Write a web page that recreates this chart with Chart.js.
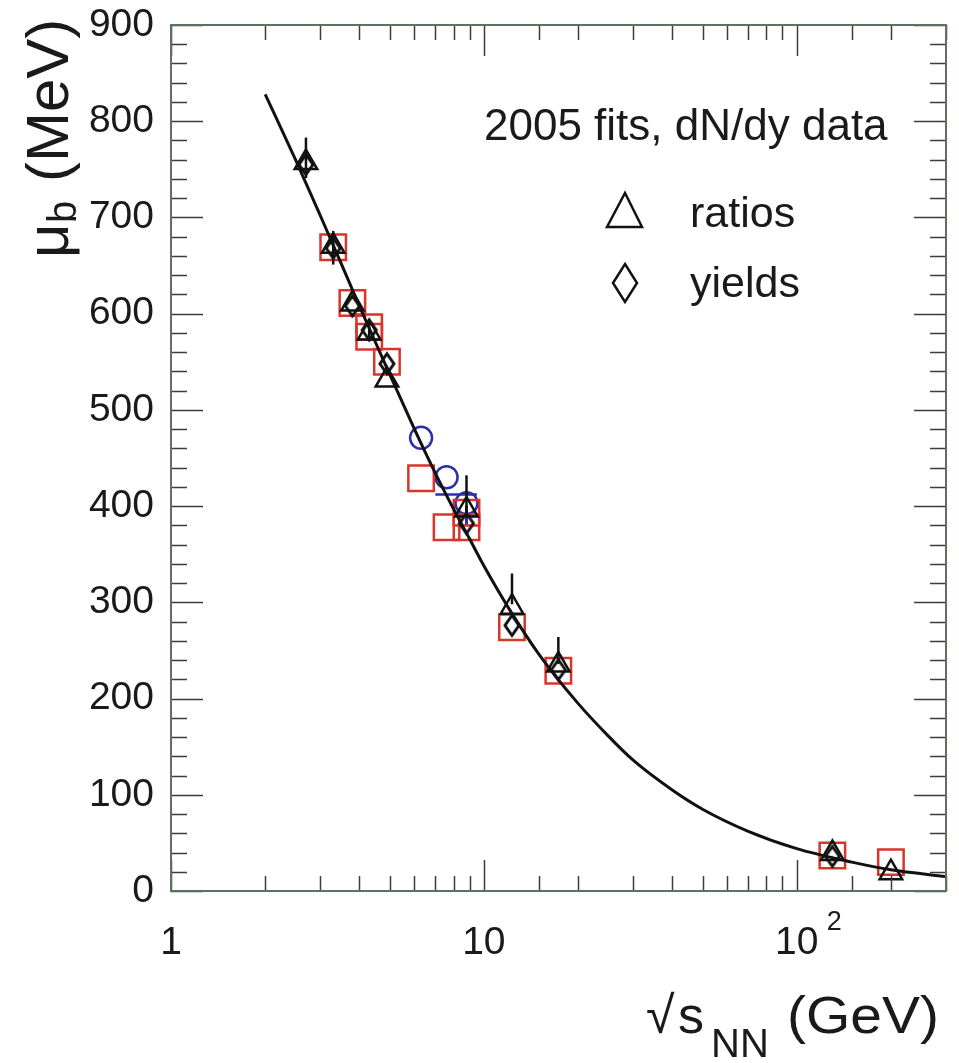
<!DOCTYPE html>
<html>
<head>
<meta charset="utf-8">
<script src="https://cdn.jsdelivr.net/npm/chart.js@4.4.0/dist/chart.umd.min.js"></script>
<style>
  html, body { margin: 0; padding: 0; background: #fff; }
  #grafico { display: block; }
</style>
</head>
<body>
<canvas id="grafico" width="959" height="1063" style="width:959px;height:1063px"></canvas>
<script>
// fit curve
var curvaX = [2.0, 2.5, 3.0, 3.5, 4.0, 5.0, 6.0, 7.0, 8.0, 9.0, 10, 12, 15, 20, 25, 30, 40, 50, 70, 100, 150, 200, 300];
var curvaY = [828, 760, 702, 652, 608, 537, 480, 434, 397, 366, 338, 294, 246, 195, 161, 136, 105, 85, 62, 44, 30, 22, 15];

// triangles: fits to ratios
var ratiosX = [2.7, 3.3, 3.8, 4.3, 4.9, 8.8, 12.3, 17.3, 130, 200];
var ratiosY = [757, 670, 610, 580, 531, 396, 295, 235, 39, 19];

// diamonds: fits to yields
var yieldsX = [2.7, 3.3, 3.8, 4.3, 4.9, 8.8, 12.3, 17.3, 130];
var yieldsY = [755, 668, 608, 583, 548, 382, 276, 230, 36];

// red squares
var cuadX = [3.3, 3.8, 4.3, 4.3, 4.9, 6.3, 7.6, 8.8, 8.8, 12.3, 17.3, 130, 200];
var cuadY = [669, 611, 586, 576, 550, 429, 378, 378, 393, 274, 229, 37, 30];

// blue circles
var circX = [6.3, 7.6, 8.8];
var circY = [471, 430, 403];

// error bars
var errX  = [2.7, 3.3, 4.3, 8.8, 12.3, 17.3];
var errLo = [741, 651, 572, 392, 298, 236];
var errHi = [783, 686, 592, 432, 330, 264];

// blue horizontal bar near 8 GeV
var barraAzulX = [7.0, 9.5];
var barraAzulY = [412, 412];

var xEtiquetas = { 1: '1', 10: '10', 100: '10' };

Chart.defaults.font.family = "'Liberation Sans', Arial, sans-serif";

function puntos(xs, ys) {
    return xs.map(function (x, i) { return { x: x, y: ys[i] }; });
}

// tall open diamond used as point style
function hacerRombo(w, h, lw) {
    var c = document.createElement('canvas');
    c.width = w + lw * 2;
    c.height = h + lw * 2;
    var g = c.getContext('2d');
    var cx = c.width / 2, cy = c.height / 2;
    g.strokeStyle = '#111';
    g.lineWidth = lw;
    g.beginPath();
    g.moveTo(cx, cy - h / 2);
    g.lineTo(cx + w / 2, cy);
    g.lineTo(cx, cy + h / 2);
    g.lineTo(cx - w / 2, cy);
    g.closePath();
    g.stroke();
    return c;
}
var rombo = hacerRombo(14, 20, 3);

function sinPadding(s) {
    s.paddingTop = 0;
    s.paddingBottom = 0;
    s.paddingLeft = 0;
    s.paddingRight = 0;
}

var datasets = [];

datasets.push({
    type: 'line',
    data: puntos(curvaX, curvaY),
    borderColor: '#111',
    borderWidth: 3,
    pointRadius: 0,
    cubicInterpolationMode: 'monotone',
    showLine: true,
    order: 0
});

errX.forEach(function (x, i) {
    datasets.push({
        type: 'line',
        data: [{ x: x, y: errLo[i] }, { x: x, y: errHi[i] }],
        borderColor: '#111',
        borderWidth: 2.5,
        pointRadius: 0,
        showLine: true,
        order: 1
    });
});

datasets.push({
    data: puntos(ratiosX, ratiosY),
    pointStyle: 'triangle',
    pointRadius: 13,
    borderColor: '#111',
    borderWidth: 2.5,
    backgroundColor: 'rgba(0,0,0,0)',
    order: 2
});

datasets.push({
    data: puntos(yieldsX, yieldsY),
    pointStyle: rombo,
    pointRadius: 10,
    order: 3
});

datasets.push({
    data: puntos(cuadX, cuadY),
    pointStyle: 'rect',
    pointRadius: 18,
    borderColor: '#d8352c',
    borderWidth: 2.5,
    backgroundColor: 'rgba(0,0,0,0)',
    order: 4
});

datasets.push({
    data: puntos(circX, circY),
    pointStyle: 'circle',
    pointRadius: 11,
    borderColor: '#2a30a6',
    borderWidth: 2.5,
    backgroundColor: 'rgba(0,0,0,0)',
    order: 5
});

datasets.push({
    type: 'line',
    data: puntos(barraAzulX, barraAzulY),
    borderColor: '#2a30a6',
    borderWidth: 2.5,
    pointRadius: 0,
    showLine: true,
    order: 5
});

datasets.push({
    data: [{ x: 8.8, y: 390 }],
    pointStyle: 'cross',
    pointRadius: 10,
    borderColor: '#2a30a6',
    borderWidth: 3,
    order: 5
});

var marco = {
    id: 'marco',
    afterDraw: function (chart) {
        var ctx = chart.ctx;
        var a = chart.chartArea;
        var sx = chart.scales.x, sy = chart.scales.y;
        ctx.save();

        // inner ticks on all four sides
        ctx.strokeStyle = '#3c3c3c';
        ctx.lineWidth = 1.5;
        ctx.beginPath();
        sy.ticks.forEach(function (t) {
            var py = Math.round(sy.getPixelForValue(t.value)) + 0.5;
            var largo = (Math.round(t.value) % 100 === 0) ? 32 : 16;
            ctx.moveTo(a.left, py); ctx.lineTo(a.left + largo, py);
            ctx.moveTo(a.right, py); ctx.lineTo(a.right - largo, py);
        });
        sx.ticks.forEach(function (t) {
            var px = Math.round(sx.getPixelForValue(t.value)) + 0.5;
            var l = Math.log10(t.value);
            var largo = Math.abs(l - Math.round(l)) < 1e-6 ? 31 : 15;
            ctx.moveTo(px, a.bottom); ctx.lineTo(px, a.bottom - largo);
            ctx.moveTo(px, a.top); ctx.lineTo(px, a.top + largo);
        });
        ctx.stroke();

        // frame
        ctx.strokeStyle = '#5c725c';
        ctx.lineWidth = 2;
        ctx.strokeRect(a.left, a.top, a.right - a.left, a.bottom - a.top);

        ctx.fillStyle = '#1a1a1a';

        // superscript of 10^2
        var p100 = sx.getPixelForValue(100);
        ctx.font = "27px 'Liberation Sans', Arial, sans-serif";
        ctx.textAlign = 'left';
        ctx.textBaseline = 'alphabetic';
        ctx.fillText('2', p100 + 30, 930);

        // legend
        ctx.font = "44px 'Liberation Sans', Arial, sans-serif";
        ctx.fillText('2005 fits, dN/dy data', 484, 140);
        ctx.font = "43px 'Liberation Sans', Arial, sans-serif";
        ctx.fillText('ratios', 690, 227);
        ctx.fillText('yields', 690, 297);
        ctx.strokeStyle = '#111';
        ctx.lineWidth = 2.5;
        ctx.beginPath();
        ctx.moveTo(607, 227); ctx.lineTo(642, 227); ctx.lineTo(625, 193); ctx.closePath();
        ctx.stroke();
        ctx.beginPath();
        ctx.moveTo(625, 264); ctx.lineTo(637, 283); ctx.lineTo(625, 302); ctx.lineTo(613, 283); ctx.closePath();
        ctx.stroke();

        // y title: mu_b (MeV)
        ctx.save();
        ctx.translate(68, 258);
        ctx.rotate(-Math.PI / 2);
        ctx.font = "60px 'Liberation Sans', Arial, sans-serif";
        ctx.fillText('\u03bc', 0, 0);
        ctx.font = "40px 'Liberation Sans', Arial, sans-serif";
        ctx.fillText('b', 35, 8);
        ctx.font = "60px 'Liberation Sans', Arial, sans-serif";
        ctx.fillText('(MeV)', 76, 0);
        ctx.restore();

        // x title: sqrt(s_NN) (GeV)
        ctx.font = "52px 'Liberation Sans', Arial, sans-serif";
        ctx.fillText('\u221a', 646, 1033);
        ctx.fillText('s', 678, 1033);
        ctx.font = "40px 'Liberation Sans', Arial, sans-serif";
        ctx.fillText('NN', 711, 1057);
        ctx.font = "52px 'Liberation Sans', Arial, sans-serif";
        var w = ctx.measureText('(GeV)').width;
        ctx.save();
        ctx.translate(787, 1033);
        ctx.scale(152 / w, 1);
        ctx.fillText('(GeV)', 0, 0);
        ctx.restore();

        ctx.restore();
    }
};

var ctx = document.getElementById('grafico').getContext('2d');
var grafico = new Chart(ctx, {
    type: 'scatter',
    data: { datasets: datasets },
    options: {
        responsive: false,
        animation: false,
        devicePixelRatio: 1,
        layout: { autoPadding: false, padding: { left: 0, right: 13, top: 25, bottom: 0 } },
        plugins: {
            legend: { display: false },
            tooltip: { enabled: false }
        },
        scales: {
            x: {
                type: 'logarithmic',
                min: 1,
                max: 300,
                grid: { display: false, drawTicks: false },
                border: { display: false },
                ticks: {
                    autoSkip: false,
                    maxRotation: 0,
                    padding: 29,
                    color: '#1a1a1a',
                    font: { size: 39 },
                    callback: function (v) {
                        var k = Math.round(v);
                        if (Math.abs(v - k) < 1e-6 && xEtiquetas[k]) return xEtiquetas[k];
                        return '';
                    }
                },
                afterFit: function (s) { s.height = 172; sinPadding(s); }
            },
            y: {
                min: 0,
                max: 900,
                grid: { display: false, drawTicks: false },
                border: { display: false },
                ticks: {
                    stepSize: 20,
                    autoSkip: false,
                    padding: 17,
                    color: '#1a1a1a',
                    font: { size: 39 },
                    callback: function (v) {
                        return Math.round(v) % 100 === 0 ? String(Math.round(v)) : '';
                    }
                },
                afterFit: function (s) { s.width = 171; sinPadding(s); }
            }
        }
    },
    plugins: [marco]
});
</script>
</body>
</html>
